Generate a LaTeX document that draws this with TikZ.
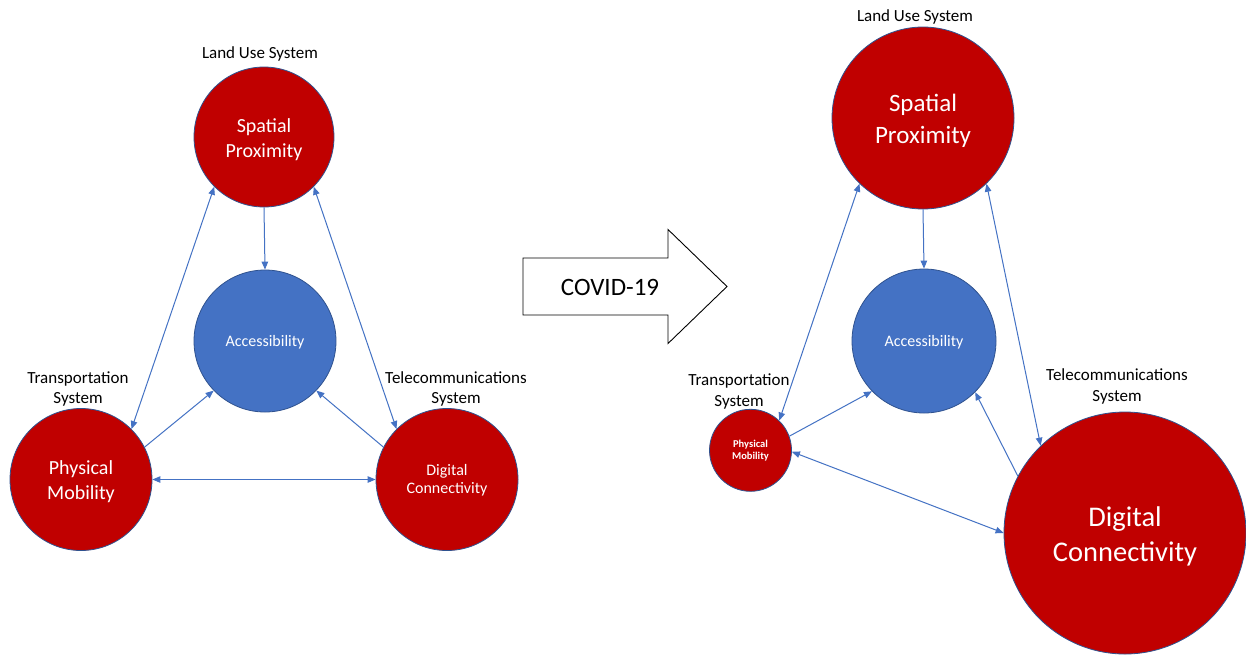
\documentclass[tikz,border=0pt]{standalone}
\usepackage{fontspec}
\setmainfont{Carlito}
\usetikzlibrary{arrows.meta}
\definecolor{cred}{HTML}{C00000}
\definecolor{cblue}{HTML}{4472C4}
\definecolor{cedge}{HTML}{2F528F}
\newcommand{\ctxt}[2]{\raisebox{-#1pt}[\height][\depth]{\begin{tabular}{@{}c@{}}#2\end{tabular}}}
\tikzset{
 redball/.style={circle, draw=cedge, line width=0.8pt, fill=cred, text=white, inner sep=0pt, align=center},
 blueball/.style={circle, draw=cedge, line width=0.8pt, fill=cblue, text=white, inner sep=0pt, align=center},
 lbl/.style={align=center, text=black, font=\fontsize{17}{20.5}\selectfont, inner sep=0pt},
 conn/.style={draw=cblue, line width=1pt, -{Triangle[length=8pt,width=6.5pt]}},
 conn2/.style={draw=cblue, line width=1pt, {Triangle[length=8pt,width=6.5pt]}-{Triangle[length=8pt,width=6.5pt]}},
 bigarrow/.style={draw=black, line width=0.9pt, fill=white, line join=miter}
}
\begin{document}
\begin{tikzpicture}[x=1pt,y=-1pt]
\useasboundingbox[fill=white] (0,0) rectangle (1246,657);

% left diagram
\node[redball, minimum size=140pt, font=\fontsize{20}{24.5}\selectfont] (sp1) at (264,137) {\ctxt{3}{Spatial\\Proximity}};
\node[blueball, minimum size=142pt, font=\fontsize{16}{19}\selectfont] (ac1) at (265,341) {\ctxt{2}{Accessibility}};
\node[redball, minimum size=142pt, font=\fontsize{20}{25}\selectfont] (pm1) at (81,479.5) {\ctxt{2}{Physical\\Mobility}};
\node[redball, minimum size=142pt, font=\fontsize{16}{18.5}\selectfont] (dc1) at (447,479.5) {\ctxt{1.5}{Digital\\Connectivity}};

\node[lbl] (lu1) at (260,54) {Land Use System};
\node[lbl] (ts1) at (78,389) {Transportation\\System};
\node[lbl] (tc1) at (456,389) {Telecommunications\\System};

\draw[conn] (sp1.south) -- (ac1.north);
\draw[conn2] (sp1.225) -- (pm1.45);
\draw[conn2] (sp1.315) -- (dc1.135);
\draw[conn] (pm1.27) -- (ac1.224);
\draw[conn] (dc1.153) -- (ac1.316);
\draw[conn2] (pm1.east) -- (dc1.west);

% COVID arrow
\draw[bigarrow] (523,258) -- (668,258) -- (668,229.5) -- (727,286.5) -- (668,343.5) -- (668,315) -- (523,315) -- cycle;
\node[font=\fontsize{25}{30}\selectfont, inner sep=0pt] (covid) at (610,287) {COVID-19};

% right diagram
\node[redball, minimum size=182pt, font=\fontsize{25}{32}\selectfont] (sp2) at (923,118) {\ctxt{3.5}{Spatial\\Proximity}};
\node[blueball, minimum size=144pt, font=\fontsize{16}{19}\selectfont] (ac2) at (924,341) {\ctxt{2}{Accessibility}};
\node[redball, minimum size=82pt, font=\bfseries\fontsize{10.5}{12.3}\selectfont] (pm2) at (750.5,450.3) {\ctxt{0.5}{Physical\\Mobility}};
\node[redball, minimum size=242pt, font=\fontsize{28.5}{35}\selectfont] (dc2) at (1125,533) {\ctxt{3.5}{Digital\\Connectivity}};

\node[lbl] (lu2) at (915,17) {Land Use System};
\node[lbl] (ts2) at (739,391.5) {Transportation\\System};
\node[lbl] (tc2) at (1117,386.5) {Telecommunications\\System};

\draw[conn] (sp2.south) -- (ac2.north);
\draw[conn2] (sp2.226) -- (pm2.46);
\draw[conn2] (sp2.314) -- (dc2.134);
\draw[conn] (pm2.20) -- (ac2.224);
\draw[conn] (dc2.152) -- (ac2.315);
\draw[conn2] (pm2.358) -- (dc2.180);
\end{tikzpicture}
\end{document}
